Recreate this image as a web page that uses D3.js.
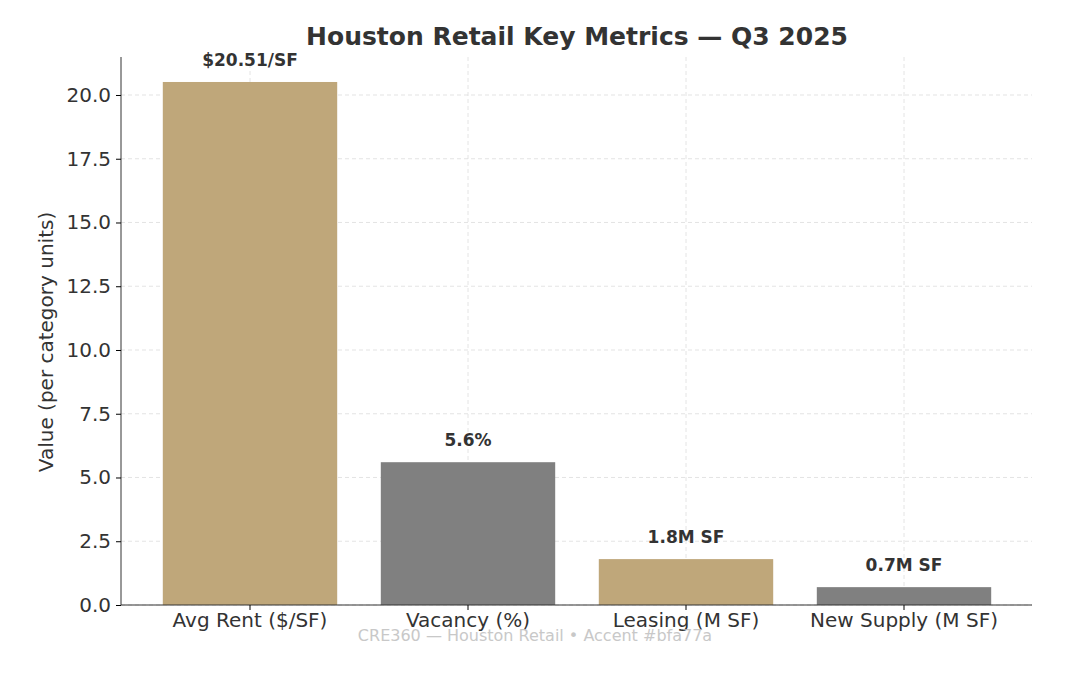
<!DOCTYPE html>
<html><head><meta charset="utf-8">
<script src="https://cdn.jsdelivr.net/npm/d3@7"></script>
<style>body{margin:0;background:#fff}text{font-family:"DejaVu Sans",sans-serif}</style>
</head><body><svg id="c" width="1080" height="685"></svg>
<script>
const categories = ["Avg Rent ($/SF)", "Vacancy (%)", "Leasing (M SF)", "New Supply (M SF)"];
const values = [20.51, 5.6, 1.8, 0.7];
const labels = ["$20.51/SF", "5.6%", "1.8M SF", "0.7M SF"];
const yTicks = [0, 2.5, 5, 7.5, 10, 12.5, 15, 17.5, 20];

const svg = d3.select('#c');
const L = 121, R = 1032, T = 57, B = 605;
const x = d3.scaleBand().domain(categories).range([141, 1013]).paddingInner(0.2).paddingOuter(0.1);
const y = d3.scaleLinear().domain([0, 21.49]).range([B, T]);
const colors = ['#bfa77a', '#808080', '#bfa77a', '#808080'];

// grid
svg.append('g').selectAll('line').data(yTicks).enter().append('line')
  .attr('x1', L).attr('x2', R).attr('y1', d => y(d)).attr('y2', d => y(d))
  .attr('stroke', '#ddd').attr('stroke-dasharray', '4,3').attr('stroke-width', 0.8);
svg.append('g').selectAll('line').data(categories).enter().append('line')
  .attr('x1', d => x(d) + x.bandwidth() / 2).attr('x2', d => x(d) + x.bandwidth() / 2)
  .attr('y1', T).attr('y2', B)
  .attr('stroke', '#ddd').attr('stroke-dasharray', '4,3').attr('stroke-width', 0.8);

svg.append('g').selectAll('rect').data(values).enter().append('rect')
  .attr('x', (d, i) => x(categories[i])).attr('width', x.bandwidth())
  .attr('y', d => y(d)).attr('height', d => B - y(d))
  .attr('fill', (d, i) => colors[i]);

svg.append('g').selectAll('text').data(values).enter().append('text')
  .attr('x', (d, i) => x(categories[i]) + x.bandwidth() / 2).attr('y', d => y(d) - 16)
  .attr('text-anchor', 'middle').attr('font-size', 17).attr('font-weight', 'bold').attr('fill', '#333')
  .text((d, i) => labels[i]);

const ya = svg.append('g').attr('transform', `translate(${L},0)`)
  .call(d3.axisLeft(y).tickValues(yTicks).tickFormat(d3.format('.1f')).tickSize(5).tickPadding(5));
ya.select('.domain').attr('stroke', '#333').attr('d', `M0,${T}V${B}`);
ya.selectAll('text').attr('font-size', 20).attr('fill', '#333');
const xa = svg.append('g').attr('transform', `translate(0,${B})`)
  .call(d3.axisBottom(x).tickSize(5).tickPadding(3));
xa.select('.domain').attr('stroke', '#333').attr('d', `M${L},0H${R}`);
xa.selectAll('text').attr('font-size', 20).attr('fill', '#333');

svg.append('text').attr('x', 577).attr('y', 45).attr('text-anchor', 'middle')
  .attr('font-size', 25).attr('font-weight', 'bold').attr('fill', '#333')
  .text('Houston Retail Key Metrics — Q3 2025');
svg.append('text').attr('transform', 'translate(53,342) rotate(-90)').attr('text-anchor', 'middle')
  .attr('font-size', 20).attr('fill', '#333').text('Value (per category units)');
svg.append('text').attr('x', 535).attr('y', 641).attr('text-anchor', 'middle')
  .attr('font-size', 16).attr('fill', '#bbb').attr('opacity', 0.8)
  .text('CRE360 — Houston Retail • Accent #bfa77a');
</script></body></html>
